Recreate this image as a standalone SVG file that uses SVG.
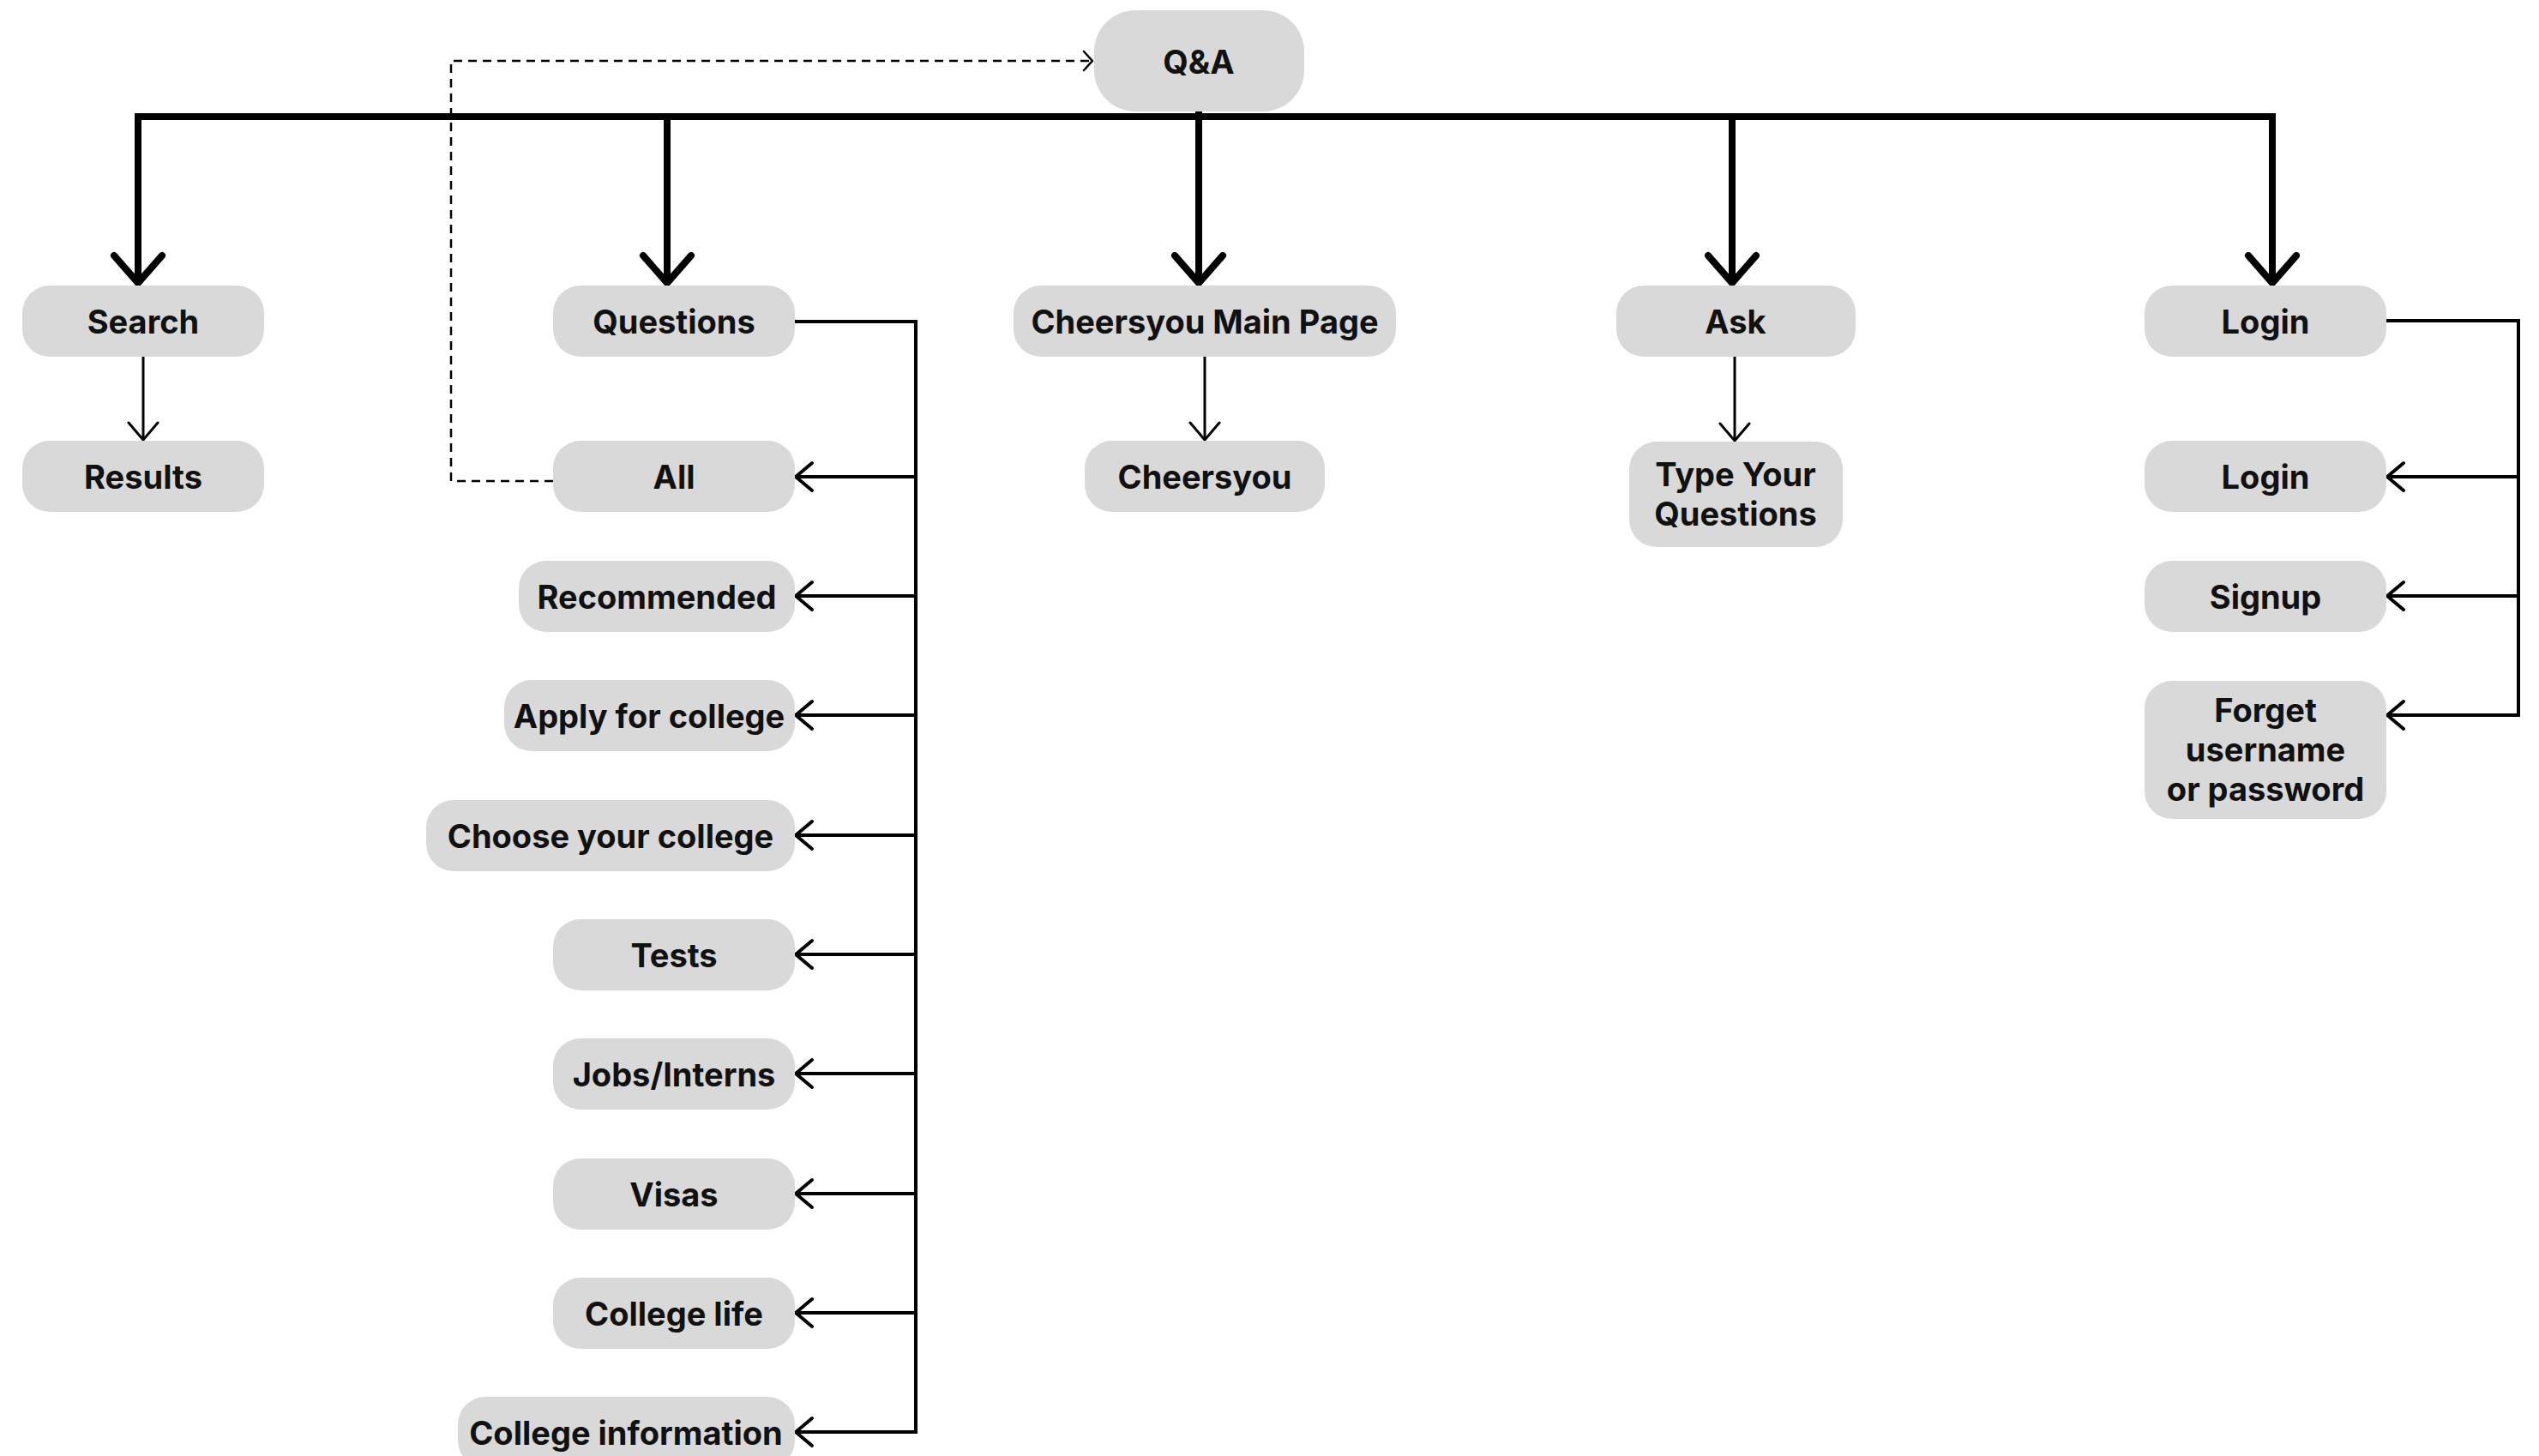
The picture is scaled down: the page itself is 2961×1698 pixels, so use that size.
<svg xmlns="http://www.w3.org/2000/svg" width="2961" height="1698" viewBox="0 0 2961 1698">
<style>
.box{fill:#d9d9d9}
text{font-family:Inter,"Noto Sans","Liberation Sans",sans-serif;font-weight:650;font-size:38px;fill:#111;text-anchor:middle}
.thick{fill:none;stroke:#000;stroke-width:8;stroke-linejoin:miter}
.mid{fill:none;stroke:#000;stroke-width:4}
.thin{fill:none;stroke:#000;stroke-width:3}
.dash{fill:none;stroke:#000;stroke-width:2.5;stroke-dasharray:10 7}
</style>
<defs>
<marker id="big" markerUnits="userSpaceOnUse" viewBox="-40 -40 50 80" markerWidth="50" markerHeight="80" refX="0" refY="0" orient="auto" overflow="visible">
<path d="M-32,-28 L0,0 L-32,28" fill="none" stroke="#000" stroke-width="8" stroke-linecap="round" stroke-linejoin="round"/>
</marker>
<marker id="small" markerUnits="userSpaceOnUse" viewBox="-30 -30 40 60" markerWidth="40" markerHeight="60" refX="0" refY="0" orient="auto" overflow="visible">
<path d="M-20,-17 L0,0 L-20,17" fill="none" stroke="#000" stroke-width="3" stroke-linecap="round" stroke-linejoin="round"/>
</marker>
<marker id="side" markerUnits="userSpaceOnUse" viewBox="-30 -30 40 60" markerWidth="40" markerHeight="60" refX="0" refY="0" orient="auto" overflow="visible">
<path d="M-19,-16 L0,0 L-19,16" fill="none" stroke="#000" stroke-width="4" stroke-linecap="round" stroke-linejoin="round"/>
</marker>
<marker id="dashhead" markerUnits="userSpaceOnUse" viewBox="-20 -20 30 40" markerWidth="30" markerHeight="40" refX="0" refY="0" orient="auto" overflow="visible">
<path d="M-10,-11 L0,0 L-10,11" fill="none" stroke="#000" stroke-width="2.5" stroke-linecap="round" stroke-linejoin="round"/>
</marker>
</defs>

<g id="connectors">
<path class="thick" d="M161,330 V136 H2650 V330"/>
<path class="thick" d="M2650,136 V330" marker-end="url(#big)"/>
<path class="thick" d="M161,136 V330" marker-end="url(#big)"/>
<path class="thick" d="M778,136 V330" marker-end="url(#big)"/>
<path class="thick" d="M1398,130 V330" marker-end="url(#big)"/>
<path class="thick" d="M2020,136 V330" marker-end="url(#big)"/>
<path class="thin" d="M167,416 V513" marker-end="url(#small)"/>
<path class="thin" d="M1405,416 V513" marker-end="url(#small)"/>
<path class="thin" d="M2023,416 V514" marker-end="url(#small)"/>
<path class="mid" d="M927,375 H1068 V1670"/>
<path class="mid" d="M1068,556 H928" marker-end="url(#side)"/>
<path class="mid" d="M1068,695 H928" marker-end="url(#side)"/>
<path class="mid" d="M1068,834 H928" marker-end="url(#side)"/>
<path class="mid" d="M1068,974 H928" marker-end="url(#side)"/>
<path class="mid" d="M1068,1113 H928" marker-end="url(#side)"/>
<path class="mid" d="M1068,1252 H928" marker-end="url(#side)"/>
<path class="mid" d="M1068,1392 H928" marker-end="url(#side)"/>
<path class="mid" d="M1068,1531 H928" marker-end="url(#side)"/>
<path class="mid" d="M1070,1670 H928" marker-end="url(#side)"/>
<path class="mid" d="M2783,374 H2937 V834"/>
<path class="mid" d="M2937,556 H2784" marker-end="url(#side)"/>
<path class="mid" d="M2937,695 H2784" marker-end="url(#side)"/>
<path class="mid" d="M2939,834 H2784" marker-end="url(#side)"/>
<path class="dash" d="M645,561 H526 V71 H1274" marker-end="url(#dashhead)"/>
</g>

<g id="qa"><rect class="box" x="1276" y="12" width="245" height="118" rx="48"/><text x="1398" y="86">Q&amp;A</text></g>
<g id="search"><rect class="box" x="26" y="333" width="282" height="83" rx="32"/><text x="167" y="389">Search</text></g>
<g id="results"><rect class="box" x="26" y="514" width="282" height="83" rx="32"/><text x="167" y="570">Results</text></g>
<g id="questions"><rect class="box" x="645" y="333" width="282" height="83" rx="32"/><text x="786" y="389">Questions</text></g>
<g id="all"><rect class="box" x="645" y="514" width="282" height="83" rx="32"/><text x="786" y="570">All</text></g>
<g id="recommended"><rect class="box" x="605" y="654" width="322" height="83" rx="32"/><text x="766" y="710">Recommended</text></g>
<g id="apply"><rect class="box" x="588" y="793" width="339" height="83" rx="32"/><text x="757" y="849">Apply for college</text></g>
<g id="choose"><rect class="box" x="497" y="933" width="430" height="83" rx="32"/><text x="712" y="989">Choose your college</text></g>
<g id="tests"><rect class="box" x="645" y="1072" width="282" height="83" rx="32"/><text x="786" y="1128">Tests</text></g>
<g id="jobs"><rect class="box" x="645" y="1211" width="282" height="83" rx="32"/><text x="786" y="1267">Jobs/Interns</text></g>
<g id="visas"><rect class="box" x="645" y="1351" width="282" height="83" rx="32"/><text x="786" y="1407">Visas</text></g>
<g id="life"><rect class="box" x="645" y="1490" width="282" height="83" rx="32"/><text x="786" y="1546">College life</text></g>
<g id="info"><rect class="box" x="534" y="1629" width="393" height="83" rx="32"/><text x="730" y="1685">College information</text></g>
<g id="mainpage"><rect class="box" x="1182" y="333" width="446" height="83" rx="32"/><text x="1405" y="389">Cheersyou Main Page</text></g>
<g id="cheersyou"><rect class="box" x="1265" y="514" width="280" height="83" rx="32"/><text x="1405" y="570">Cheersyou</text></g>
<g id="ask"><rect class="box" x="1885" y="333" width="279" height="83" rx="32"/><text x="2024" y="389">Ask</text></g>
<g id="type"><rect class="box" x="1900" y="515" width="249" height="123" rx="32"/><text x="2024" y="567">Type Your</text><text x="2024" y="613">Questions</text></g>
<g id="login"><rect class="box" x="2501" y="333" width="282" height="83" rx="32"/><text x="2642" y="389">Login</text></g>
<g id="login2"><rect class="box" x="2501" y="514" width="282" height="83" rx="32"/><text x="2642" y="570">Login</text></g>
<g id="signup"><rect class="box" x="2501" y="654" width="282" height="83" rx="32"/><text x="2642" y="710">Signup</text></g>
<g id="forget"><rect class="box" x="2501" y="794" width="282" height="161" rx="32"/><text x="2642" y="842">Forget</text><text x="2642" y="888">username</text><text x="2642" y="934">or password</text></g>
</svg>
